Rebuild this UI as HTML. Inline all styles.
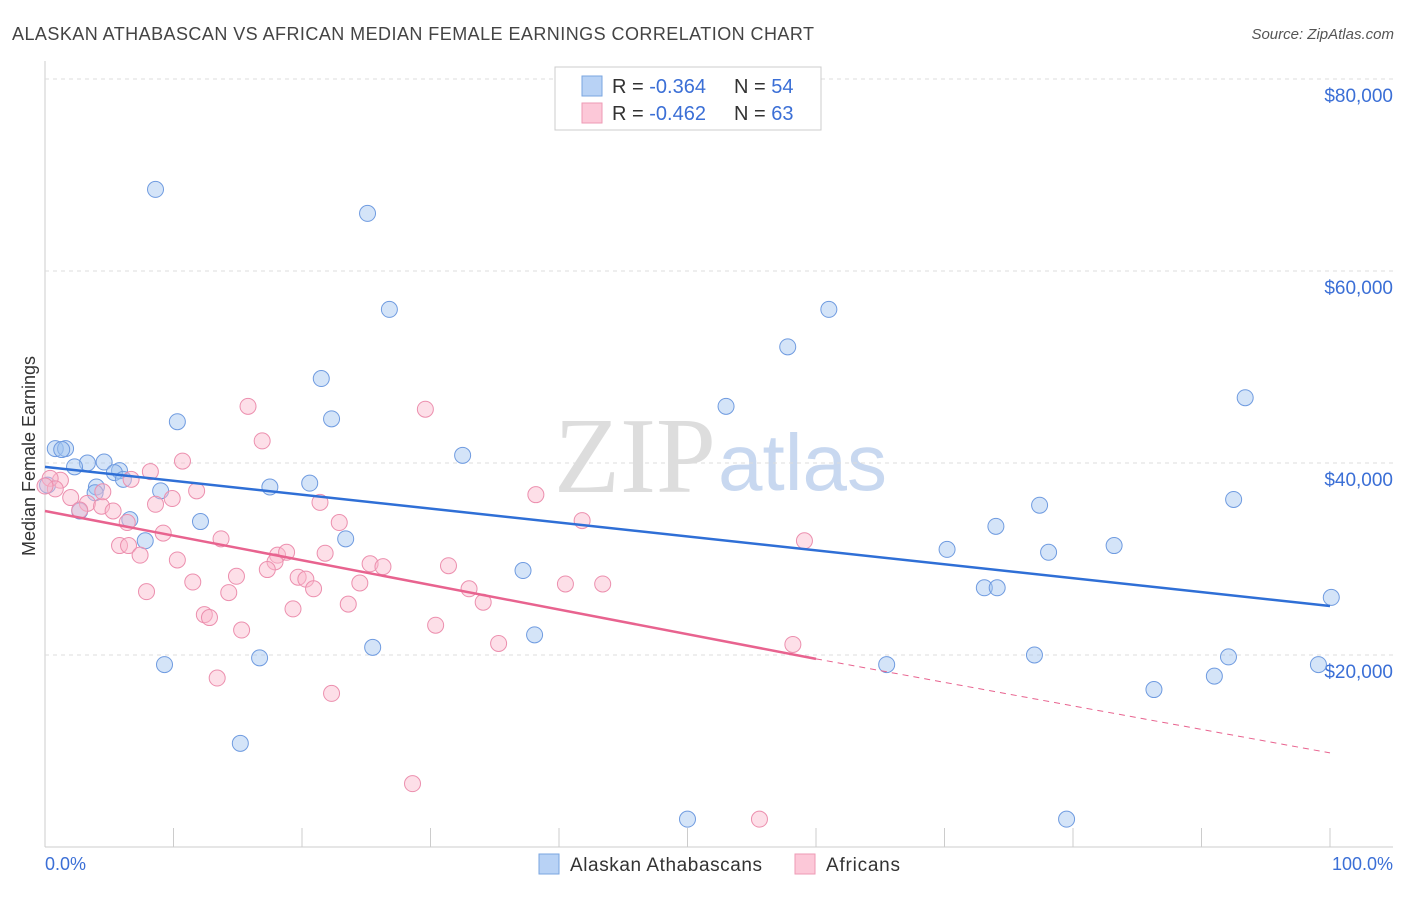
<!DOCTYPE html>
<html><head><meta charset="utf-8"><style>
body{margin:0;background:#fff;font-family:"Liberation Sans",sans-serif;}
#c{position:relative;width:1406px;height:892px;}
</style></head><body>
<div id="c">
<svg id="s" width="1406" height="892">
<text x="12" y="40" font-size="18" fill="#444" textLength="802">ALASKAN ATHABASCAN VS AFRICAN MEDIAN FEMALE EARNINGS CORRELATION CHART</text>
<text x="1394" y="39" font-size="15" fill="#555" text-anchor="end" font-style="italic">Source: ZipAtlas.com</text>
<text x="35" y="456" font-size="18" fill="#333" text-anchor="middle" transform="rotate(-90 35 456)">Median Female Earnings</text>
<text x="716" y="492" font-size="108" fill="#ddd" text-anchor="end" font-family="Liberation Serif">ZIP</text>
<text x="718" y="490" font-size="80" fill="#c8d8f0">atlas</text>
<g id="grid"></g><g id="pts"></g><g id="trend"></g>
<g>
<rect x="555" y="67" width="266" height="63" fill="#fff" stroke="#ccc"/>
<rect x="582" y="76" width="20" height="20" fill="#b8d2f5" stroke="#7aa6e0"/>
<rect x="582" y="103" width="20" height="20" fill="#fcc8d8" stroke="#ee9ab4"/>
<text x="612" y="93" font-size="20" fill="#333">R = <tspan fill="#3b6fd6">-0.364</tspan></text>
<text x="734" y="93" font-size="20" fill="#333">N = <tspan fill="#3b6fd6">54</tspan></text>
<text x="612" y="120" font-size="20" fill="#333">R = <tspan fill="#3b6fd6">-0.462</tspan></text>
<text x="734" y="120" font-size="20" fill="#333">N = <tspan fill="#3b6fd6">63</tspan></text>
</g>
<g>
<rect x="539" y="854" width="20" height="20" fill="#b8d2f5" stroke="#7aa6e0"/>
<text x="570" y="871" font-size="19" fill="#333" textLength="192">Alaskan Athabascans</text>
<rect x="795" y="854" width="20" height="20" fill="#fcc8d8" stroke="#ee9ab4"/>
<text x="826" y="871" font-size="19" fill="#333" textLength="74">Africans</text>
</g>
<text x="45" y="870" font-size="18" fill="#3b6fd6">0.0%</text>
<text x="1393" y="870" font-size="18" fill="#3b6fd6" text-anchor="end">100.0%</text>
</svg></div>
<script>
const yTicks=[20000,40000,60000,80000];
const yTickLabels=["$20,000","$40,000","$60,000","$80,000"];
const blueX=[8.6,25.1,26.8,61.0,57.8,21.5,10.3,22.3,53.0,93.4,32.5,0.8,1.6,3.3,4.6,2.3,5.8,5.4,6.1,4.0,3.9,0.2,17.5,20.6,9.0,2.7,6.6,12.1,23.4,7.8,77.4,74.0,92.5,70.2,78.1,83.2,37.2,73.1,74.1,100.1,38.1,25.5,9.3,16.7,65.5,77.0,92.1,99.1,86.3,91.0,15.2,50.0,79.5,1.3];
const blueY=[68500,66000,56000,56000,52100,48800,44300,44600,45900,46800,40800,41500,41500,40000,40100,39600,39200,39000,38300,37500,36900,37700,37500,37900,37100,35000,34100,33900,32100,31900,35600,33400,36200,31000,30700,31400,28800,27000,27000,26000,22100,20800,19000,19700,19000,20000,19800,19000,16400,17800,10800,2900,2900,41400];
const pinkX=[15.8,29.6,16.9,10.7,8.2,6.7,1.2,0.4,2.0,3.3,4.4,5.3,6.4,8.6,9.9,11.8,21.4,22.9,38.2,41.8,13.7,9.2,5.8,6.5,7.4,10.3,18.1,18.8,21.8,17.9,17.3,25.3,26.3,31.4,14.9,11.5,19.7,20.3,20.9,24.5,14.3,33.0,34.1,40.5,43.4,7.9,19.3,23.6,12.4,12.8,15.3,30.4,35.3,59.1,58.2,13.4,22.3,28.6,55.6,0.8,0.0,4.5,2.7];
const pinkY=[45900,45600,42300,40200,39100,38300,38200,38400,36400,35800,35500,35000,33800,35700,36300,37100,35900,33800,36700,34000,32100,32700,31400,31400,30400,29900,30400,30700,30600,29700,28900,29500,29200,29300,28200,27600,28100,27900,26900,27500,26500,26900,25500,27400,27400,26600,24800,25300,24200,23900,22600,23100,21200,31900,21100,17600,16000,6600,2900,37300,37600,37000,35100];
const trendBlue=[0,39600,100,25100];
const trendPink=[0,35000,60,19600,100,9800];
const X=v=>45+v*12.85, Y=v=>847-v*192/20000;
const NS="http://www.w3.org/2000/svg";
function mk(t,a,p){const e=document.createElementNS(NS,t);for(const k in a)e.setAttribute(k,a[k]);p.appendChild(e);return e;}
const g=document.getElementById('grid');
mk('line',{x1:45,y1:Y(80000)-18,x2:45,y2:847,stroke:'#ccc'},g);
const xa=mk('line',{x1:45,y1:847,x2:1393,y2:847,stroke:'#ccc'},g);


for(let i=1;i<=10;i++){mk('line',{x1:X(i*10),y1:828,x2:X(i*10),y2:847,stroke:'#ccc'},g);}
yTicks.forEach((t,i)=>{
 mk('line',{x1:45,y1:Y(t),x2:1393,y2:Y(t),stroke:'#ddd','stroke-dasharray':'4,4'},g);
 const tx=mk('text',{x:1393,y:Y(t)+23,'font-size':19,fill:'#3b6fd6','text-anchor':'end'},g);
 tx.textContent=yTickLabels[i];
 
 
});
const p=document.getElementById('pts');
blueX.forEach((x,i)=>{const c=mk('circle',{cx:X(x),cy:Y(blueY[i]),r:8,fill:'rgba(160,195,240,0.45)',stroke:'#6f9be0','stroke-width':1},p);
 
 });
pinkX.forEach((x,i)=>{const c=mk('circle',{cx:X(x),cy:Y(pinkY[i]),r:8,fill:'rgba(250,185,205,0.45)',stroke:'#ec8fae','stroke-width':1},p);
 
 });
const tr=document.getElementById('trend');
const bl=mk('line',{x1:X(trendBlue[0]),y1:Y(trendBlue[1]),x2:X(trendBlue[2]),y2:Y(trendBlue[3]),stroke:'#2f6fd6','stroke-width':2.5},tr);


const pl=mk('line',{x1:X(trendPink[0]),y1:Y(trendPink[1]),x2:X(trendPink[2]),y2:Y(trendPink[3]),stroke:'#e8638f','stroke-width':2.5},tr);


const pd=mk('line',{x1:X(trendPink[2]),y1:Y(trendPink[3]),x2:X(trendPink[4]),y2:Y(trendPink[5]),stroke:'#e8638f','stroke-width':1,'stroke-dasharray':'6,5'},tr);


</script>
</body></html>
